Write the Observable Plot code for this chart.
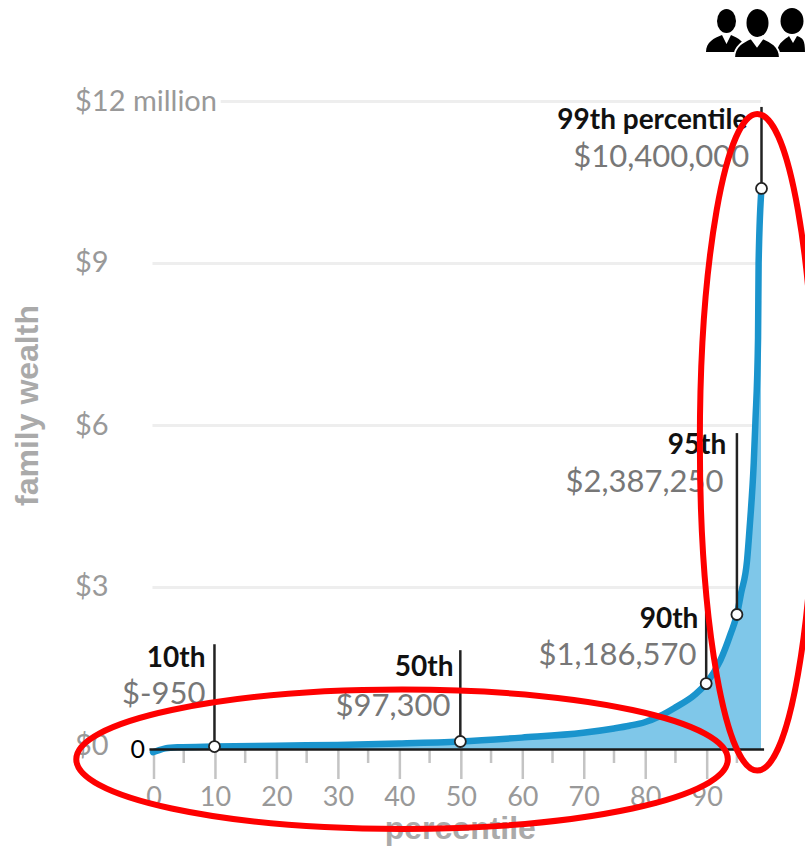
<!DOCTYPE html>
<html><head><meta charset="utf-8">
<script src="https://cdn.jsdelivr.net/npm/d3@7"></script>
<script src="https://cdn.jsdelivr.net/npm/@observablehq/plot@0.6"></script>
<style>html,body{margin:0;padding:0;background:#fff}#c{position:relative;width:805px;height:848px;overflow:hidden}
#c svg.plot{position:absolute;left:0;top:0;overflow:hidden}#icon{position:absolute;left:700px;top:0}</style>
</head><body><div id="c"></div>
<script>
const curvePct=[0,1,2,4,10,20,30,40,50,60,70,75,77.5,80,82.5,85,88,90,92.3,94,95,95.67,96.65,97.07,97.74,98,98.44,98.53,99];
const curveVal=[-0.05,-0.01,0.02,0.04,0.055,0.07,0.085,0.11,0.148,0.22,0.31,0.39,0.44,0.505,0.62,0.78,1.0,1.22,1.65,2.15,2.5,2.89,3.5,4.11,5.31,6.04,7.63,9.0,10.39];
const markPct=[10,50,90,95,99];
const markVal=[0.055,0.148,1.22,2.5,10.39];
const leaderTop=[1.94,1.83,2.7,5.85,11.89];
const markNames=["10th","50th","90th","95th","99th percentile"];
const markDollars=["$-950","$97,300","$1,186,570","$2,387,250","$10,400,000"];
const nameLevel=[1.69,1.52,2.41,5.63,11.65];
const dollarLevel=[1.02,0.81,1.74,4.96,10.98];
const namePct=[8.54,48.88,88.73,93.28,96.7];
const dollarPct=[8.54,48.39,88.41,92.8,97.0];
const xMajor=[0,10,20,30,40,50,60,70,80,90];
const xMinor=[5,15,25,35,45,55,65,75,85,95];
const yGrid=[3,6,9];
const yLabelLevel=[0.07,3.02,6.0,9.02,12];
const yTickText=["$0","$3","$6","$9","$12 million"];
const ringsCx=[40.6,98.4], ringsCy=[-0.19,5.68], ringsRx=[53,9.35], ringsRy=[1.29,6.08];

const rows=curvePct.map((p,i)=>({p,v:curveVal[i]}));
const marks=markPct.map((p,i)=>({p,v:markVal[i],top:leaderTop[i],name:markNames[i],dollar:markDollars[i],nl:nameLevel[i],dl:dollarLevel[i],np:namePct[i],dp:dollarPct[i]}));
const ticksY=yLabelLevel.map((v,i)=>({v,t:yTickText[i]}));
const F="Lato, 'Open Sans', sans-serif", T="'Liberation Sans', Arial, sans-serif";

const rings=(index,{x,y})=>{
  const g=d3.create("svg:g");
  ringsCx.forEach((c,i)=>{
    g.append("ellipse").attr("cx",x(c)).attr("cy",y(ringsCy[i]))
     .attr("rx",x(c+ringsRx[i])-x(c)).attr("ry",y(ringsCy[i]-ringsRy[i])-y(ringsCy[i]))
     .attr("fill","none").attr("stroke","#fe0000").attr("stroke-width",6);
  });
  return g.node();
};

const chart=Plot.plot({
  width:805,height:848,
  marginLeft:152.5,marginRight:44,marginTop:101,marginBottom:99,
  x:{domain:[0,99],axis:null},
  y:{domain:[0,12],axis:null},
  style:{background:"transparent",fontFamily:F},
  marks:[
    Plot.ruleY(yGrid,{stroke:"#eeeeee",strokeWidth:3,x1:0,x2:99}),
    Plot.ruleY([12],{stroke:"#eeeeee",strokeWidth:3,x1:11.1,x2:99}),
    Plot.axisX(xMajor,{anchor:"bottom",tickSize:30,tickPadding:7,stroke:"#c4c4c4",strokeWidth:2.5,strokeOpacity:1,fontSize:27,fill:"#999",dx:1,tickFormat:d=>d,label:null,fontFamily:F}),
    Plot.axisX(xMinor,{anchor:"bottom",tickSize:14,stroke:"#c4c4c4",strokeWidth:2.5,strokeOpacity:1,tickFormat:()=>"",label:null}),
    Plot.areaY(rows,{x:"p",y:"v",fill:"#7fc7e9",curve:"linear"}),
    Plot.line(rows,{x:"p",y:"v",stroke:"#1a94cd",strokeWidth:6.5,curve:"monotone-x"}),
    Plot.ruleY([0],{stroke:"#1a1a1a",strokeWidth:2.5,x1:-0.5,x2:99.5}),
    Plot.ruleX(marks,{x:"p",y1:"v",y2:"top",stroke:"#222",strokeWidth:2.5}),
    Plot.dot(marks,{x:"p",y:"v",r:5.5,fill:"#fff",stroke:"#222",strokeWidth:1.8}),
    Plot.text(ticksY,{x:0,y:"v",text:"t",textAnchor:"start",dx:-78,fontSize:29,fill:"#999",fontFamily:F}),
    Plot.text([0],{x:0,y:0,text:d=>"0",textAnchor:"end",dx:-8,fontSize:25,fill:"#000",fontFamily:F}),
    Plot.text(marks,{x:"np",y:"nl",text:"name",textAnchor:"end",fontSize:28,fontWeight:700,fill:"#111",fontFamily:F}),
    Plot.text(marks,{x:"dp",y:"dl",text:"dollar",textAnchor:"end",fontSize:31,fill:"#777",fontFamily:F}),
    Plot.text(["percentile"],{frameAnchor:"bottom",x:50,dy:89,text:d=>d,fontSize:32,fontWeight:700,fill:"#aaa",fontFamily:T}),
    Plot.text(["family wealth"],{x:0,y:6.37,text:d=>d,rotate:-90,dx:-125,fontSize:32,fontWeight:700,fill:"#aaa",fontFamily:T}),
    rings
  ]
});
document.getElementById("c").append(chart);
document.getElementById("c").insertAdjacentHTML("beforeend",`<svg id="icon" width="105" height="62" viewBox="0 0 105 62">
<g fill="#000">
<ellipse cx="26.5" cy="21" rx="9.5" ry="12"/><path d="M6 52 C6 42 14 38 22 35 L26.5 44 L31 35 C38 38 46 42 46 52 Z"/>
<ellipse cx="92" cy="21" rx="11.5" ry="13"/><path d="M77 52 C78 42 86 39 89 36 L93 43 L97 36 C103 38 105 40 105 52 Z"/>
<path d="M34 58 C34 46 44 41 51 38 L57 46 L63 38 C70 41 80 46 80 58 Z" stroke="#fff" stroke-width="2"/>
<ellipse cx="57.5" cy="23" rx="11" ry="14"/></g></svg>`);
</script></body></html>
